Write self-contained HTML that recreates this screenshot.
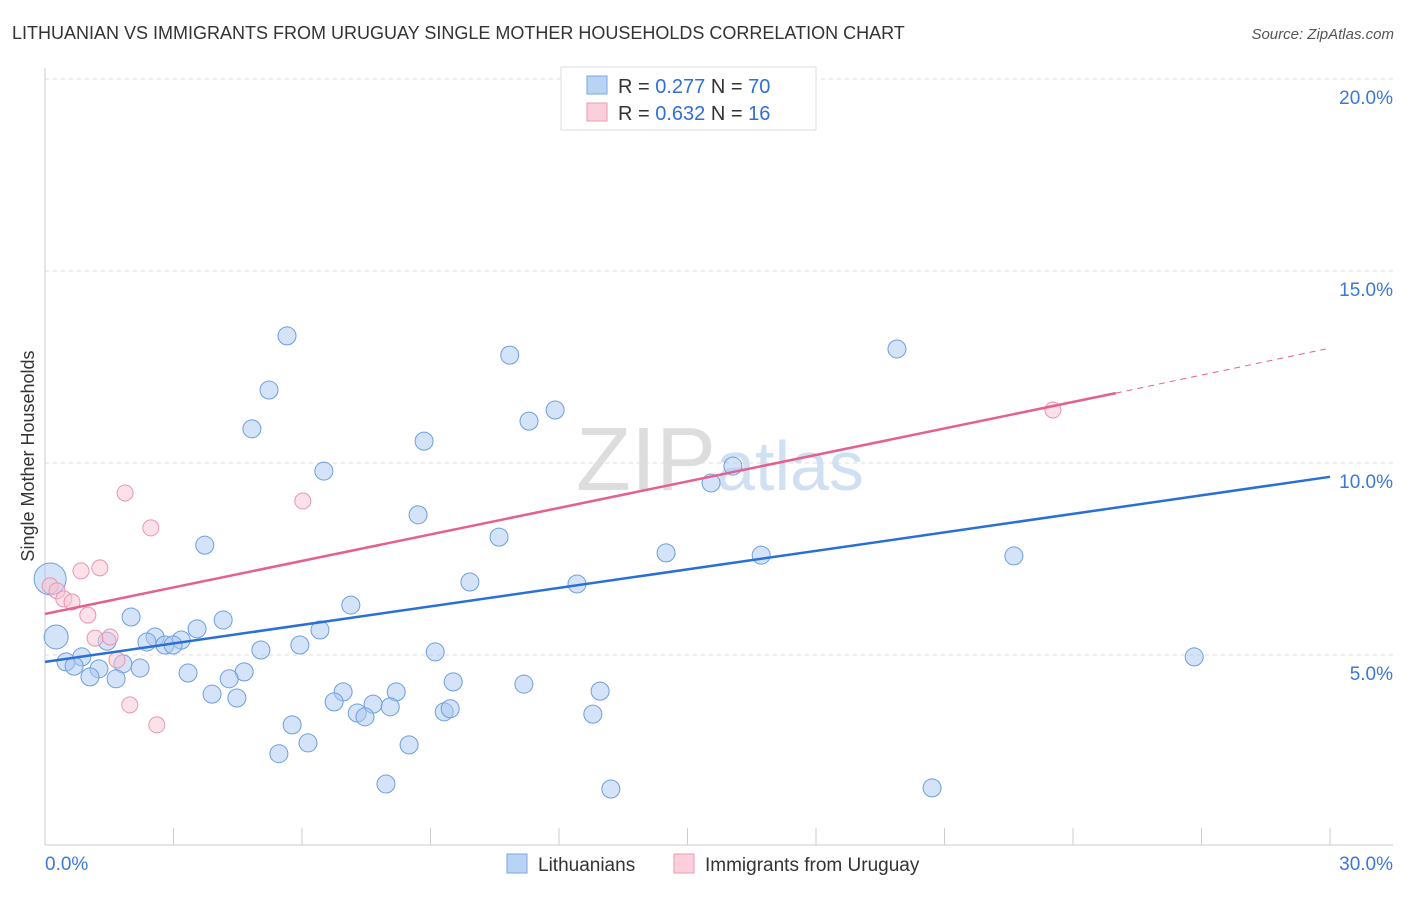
<!DOCTYPE html>
<html><head><meta charset="utf-8"><style>
body{margin:0;background:#fff;font-family:"Liberation Sans",sans-serif;}
svg text{font-family:"Liberation Sans",sans-serif;}
</style></head><body>
<svg id="chart" width="1406" height="892" viewBox="0 0 1406 892">
<text x="12" y="39" font-size="18" fill="#333">LITHUANIAN VS IMMIGRANTS FROM URUGUAY SINGLE MOTHER HOUSEHOLDS CORRELATION CHART</text>
<text x="1394" y="39" font-size="15" fill="#555" font-style="italic" text-anchor="end">Source: ZipAtlas.com</text>
<text x="720" y="490" font-size="90" fill="#ddd" text-anchor="middle" font-family="Liberation Serif">ZIP<tspan fill="#cfe0f3" font-family="Liberation Sans" font-size="70">atlas</tspan></text>
<g id="grid"></g>
<g id="axes"></g>
<text transform="translate(34,456) rotate(-90)" font-size="18" fill="#333" text-anchor="middle">Single Mother Households</text>
<g id="marks"></g>
<g id="legend">
<rect x="561" y="67" width="255" height="63" fill="#fff" stroke="#ddd"/>
<rect x="587" y="76" width="20" height="18" fill="#b9d3f5" stroke="#7aa7e0"/>
<rect x="587" y="103" width="20" height="18" fill="#fbd0dc" stroke="#eb9ab3"/>
<text x="618" y="93" font-size="20" fill="#333">R = <tspan fill="#2f6fd6">0.277</tspan>   N = <tspan fill="#2f6fd6">70</tspan></text>
<text x="618" y="120" font-size="20" fill="#333">R = <tspan fill="#2f6fd6">0.632</tspan>   N =  <tspan fill="#2f6fd6">16</tspan></text>
</g>
<g>
<rect x="507" y="854" width="20" height="19" fill="#b9d3f5" stroke="#7aa7e0"/>
<text x="538" y="871" font-size="19" fill="#333">Lithuanians</text>
<rect x="674" y="854" width="20" height="19" fill="#fbd0dc" stroke="#eb9ab3"/>
<text x="705" y="871" font-size="19" fill="#333">Immigrants from Uruguay</text>
</g>
</svg>
<script>
const xTicks=[0,3,6,9,12,15,18,21,24,27,30];
const yTicks=[5,10,15,20];
const blueX=[17.6,5.65,5.23,4.83,10.85,19.89,11.3,11.91,8.85,6.51,16.06,15.55,8.71,10.6,3.73,14.5,16.72,22.62,9.92,12.42,7.14,2.01,4.16,6.42,3.55,2.57,3.18,2.38,2.8,2.99,5.04,5.95,1.45,9.11,0.86,0.49,0.68,1.26,1.82,2.22,3.34,4.65,4.3,1.05,1.66,26.83,9.53,11.18,3.9,4.48,6.96,8.2,12.96,6.75,7.66,8.06,7.29,7.47,9.32,9.46,12.79,5.77,6.14,8.5,5.46,7.96,13.21,20.71,0.26,0.12];
const blueY=[19.97,13.31,11.9,10.89,12.81,12.97,11.09,11.38,10.57,9.79,9.92,9.48,8.65,8.07,7.86,7.66,7.6,7.58,6.9,6.85,6.3,5.99,5.91,5.65,5.68,5.47,5.39,5.34,5.26,5.26,5.13,5.26,5.36,5.08,4.95,4.82,4.71,4.64,4.77,4.66,4.53,4.56,4.38,4.43,4.38,4.95,4.3,4.24,3.98,3.88,4.04,4.04,4.06,3.78,3.72,3.65,3.49,3.39,3.52,3.6,3.46,3.18,2.71,2.66,2.43,1.64,1.51,1.54,5.47,6.98];
const blueR=[9,9,9,9,9,9,9,9,9,9,9,9,9,9,9,9,9,9,9,9,9,9,9,9,9,9,9,9,9,9,9,9,9,9,9,9,9,9,9,9,9,9,9,9,9,9,9,9,9,9,9,9,9,9,9,9,9,9,9,9,9,9,9,9,9,9,9,9,12,16];
const pinkX=[0.12,0.28,0.44,0.63,0.84,1.28,1.0,1.17,1.52,1.68,1.87,2.47,1.98,2.61,6.02,23.53];
const pinkY=[6.8,6.67,6.46,6.38,7.19,7.27,6.04,5.44,5.47,4.87,9.22,8.31,3.7,3.18,9.01,11.38];
const blueLine=[4.82,9.64];
const pinkLine=[6.07,11.82,12.97];
const X=v=>45+v*(1285/30), Y=v=>847-v*38.4;
const NS="http://www.w3.org/2000/svg";
function mk(p,t,a){const e=document.createElementNS(NS,t);for(const k in a)e.setAttribute(k,a[k]);document.getElementById(p).appendChild(e);return e;}
yTicks.forEach(t=>{
 const l=mk('grid','line',{x1:45,x2:1393,y1:Y(t),y2:Y(t),stroke:'#ddd','stroke-dasharray':'4,4'});
 
 
 const tx=mk('axes','text',{x:1393,y:Y(t)+25,'font-size':19,fill:'#3b78d8','text-anchor':'end'});
 tx.textContent=t.toFixed(1)+'%';
 
 
});
const ax=mk('axes','line',{x1:45,x2:1393,y1:845,y2:845,stroke:'#ccc'});


const ay=mk('axes','line',{x1:45,x2:45,y1:68,y2:845,stroke:'#ccc'});


xTicks.forEach(t=>{
 const l=mk('axes','line',{x1:X(t),x2:X(t),y1:828,y2:845,stroke:'#ccc'});
 
 
});
[[0,'start',45],[30,'end',1393]].forEach(([t,a,x])=>{
 const tx=mk('axes','text',{x:x,y:870,'font-size':19,fill:'#3b78d8','text-anchor':a});
 tx.textContent=t.toFixed(1)+'%';
 
 
});
blueX.forEach((x,i)=>{
 const c=mk('marks','circle',{cx:X(x),cy:Y(blueY[i]),r:blueR[i],fill:'rgba(170,200,240,0.5)',stroke:'#6c9fdf','stroke-width':1});
 
 
});
pinkX.forEach((x,i)=>{
 const c=mk('marks','circle',{cx:X(x),cy:Y(pinkY[i]),r:8,fill:'rgba(250,195,212,0.5)',stroke:'#e995b0','stroke-width':1});
 
 
});
const bl=mk('marks','line',{x1:X(0),y1:Y(blueLine[0]),x2:X(30),y2:Y(blueLine[1]),stroke:'#2a6fd6','stroke-width':2.5});


const pl=mk('marks','line',{x1:X(0),y1:Y(pinkLine[0]),x2:X(25),y2:Y(pinkLine[1]),stroke:'#e5608c','stroke-width':2.5});


const pd=mk('marks','line',{x1:X(25),y1:Y(pinkLine[1]),x2:X(29.9),y2:Y(pinkLine[2]),stroke:'#e5608c','stroke-width':1,'stroke-dasharray':'6,5'});


</script>
</body></html>
